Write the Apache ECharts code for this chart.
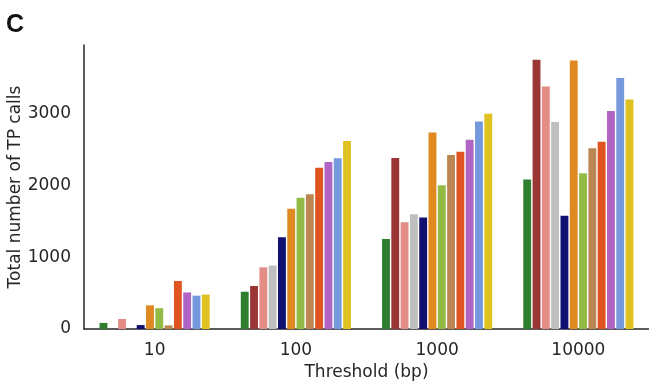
<!DOCTYPE html>
<html>
<head>
<meta charset="utf-8">
<script src="https://cdn.jsdelivr.net/npm/echarts@6/dist/echarts.min.js"></script>
<style>html,body{margin:0;padding:0;background:#fff;}#c{width:649px;height:387px;}</style>
</head>
<body>
<div id="c"></div>
<script>
var categories = ['10', '100', '1000', '10000'];
var yTicks = [0, 1000, 2000, 3000];
var colors = ['#2f7e2f', '#9a3636', '#e48c86', '#bfbfbf', '#101070', '#df8920',
              '#93ba45', '#bb8651', '#df5420', '#b064c3', '#7599dc', '#dfc220'];
var s1  = [85, 520, 1255, 2085];
var s2  = [0, 600, 2385, 3755];
var s3  = [140, 860, 1490, 3380];
var s4  = [0, 885, 1600, 2885];
var s5  = [55, 1280, 1555, 1580];
var s6  = [330, 1675, 2740, 3745];
var s7  = [290, 1830, 2005, 2170];
var s8  = [50, 1880, 2425, 2520];
var s9  = [670, 2250, 2470, 2610];
var s10 = [510, 2330, 2640, 3040];
var s11 = [465, 2380, 2895, 3500];
var s12 = [480, 2620, 3000, 3200];
var seriesData = [s1, s2, s3, s4, s5, s6, s7, s8, s9, s10, s11, s12];

var font = 'DejaVu Sans';
var chart = echarts.init(document.getElementById('c'), null, {renderer: 'canvas'});
chart.setOption({
  animation: false,
  title: {text: 'C', left: 1, top: 8, textStyle: {fontFamily: 'Liberation Sans', fontSize: 25, fontWeight: 'bold', color: '#111'}},
  grid: {left: 84, right: 0, top: 45, bottom: 58, containLabel: false, outerBoundsMode: 'none'},
  xAxis: {
    type: 'category', data: categories,
    axisLine: {lineStyle: {color: '#262626', width: 1.5}},
    axisTick: {show: false},
    axisLabel: {fontFamily: font, fontSize: 17, color: '#262626', margin: 13},
    name: 'Threshold (bp)', nameLocation: 'middle', nameGap: 35, nameMoveOverlap: false,
    nameTextStyle: {fontFamily: font, fontSize: 17, color: '#262626'}
  },
  yAxis: {
    type: 'value', min: 0, max: 3960, interval: 1000,
    axisLine: {show: true, lineStyle: {color: '#262626', width: 1.5}},
    axisTick: {show: false},
    splitLine: {show: false},
    axisLabel: {fontFamily: font, fontSize: 17, color: '#262626', margin: 13, padding: [6, 0, 0, 0],
      formatter: function (v) { return yTicks.indexOf(v) >= 0 ? String(v) : ''; }},
    name: 'Total number of TP calls', nameLocation: 'middle', nameGap: 60, nameMoveOverlap: false,
    nameTextStyle: {fontFamily: font, fontSize: 17, color: '#262626'}
  },
  series: seriesData.map(function (d, i) {
    return {type: 'bar', data: d, barCategoryGap: '22%', barGap: '18%',
            itemStyle: {color: colors[i]}};
  })
});
</script>
</body>
</html>
